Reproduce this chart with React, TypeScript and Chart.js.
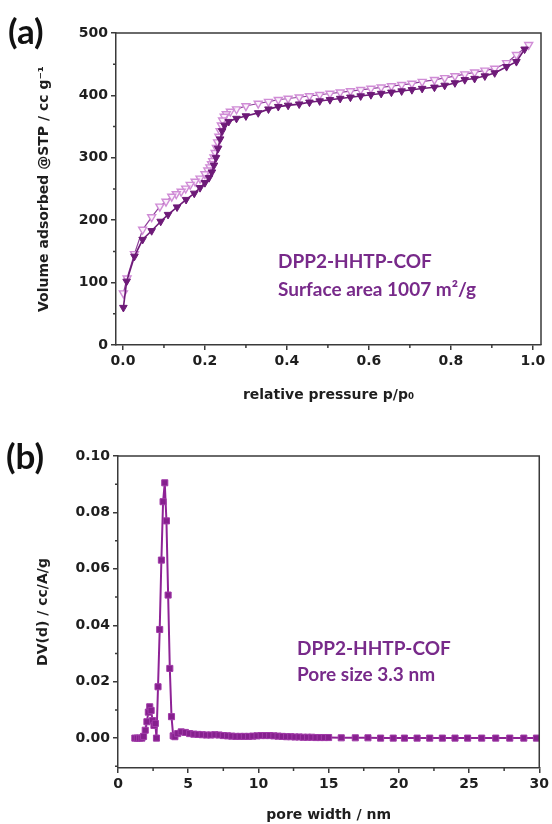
import React, { useEffect, useRef } from "react";
import { Chart, registerables } from "chart.js";
Chart.register(...registerables);

// ---------- (a) N2 isotherm ----------
const adsP = [0.001, 0.009, 0.028, 0.048, 0.07, 0.092, 0.11, 0.132, 0.154, 0.174, 0.188, 0.2, 0.21, 0.217, 0.222, 0.227, 0.232, 0.237, 0.242, 0.248, 0.258, 0.277, 0.3, 0.33, 0.355, 0.379, 0.403, 0.43, 0.455, 0.48, 0.505, 0.53, 0.555, 0.58, 0.605, 0.63, 0.655, 0.68, 0.705, 0.73, 0.76, 0.785, 0.81, 0.834, 0.858, 0.883, 0.907, 0.936, 0.96, 0.98];
const adsV = [60, 102, 142, 169, 183, 198, 209, 221, 233, 243, 252, 260, 268, 277, 288, 300, 315, 330, 343, 352, 358, 363, 367, 372, 378, 382, 384, 386, 389, 391, 393, 395, 397, 399, 401, 403, 405, 407, 409, 411, 413, 416, 420, 425, 427, 431, 436, 446, 454, 474];
const desP = [0.99, 0.96, 0.936, 0.907, 0.883, 0.858, 0.834, 0.81, 0.785, 0.76, 0.73, 0.705, 0.68, 0.655, 0.63, 0.605, 0.58, 0.555, 0.53, 0.505, 0.48, 0.455, 0.43, 0.403, 0.379, 0.355, 0.33, 0.3, 0.277, 0.262, 0.252, 0.247, 0.243, 0.24, 0.237, 0.234, 0.231, 0.228, 0.225, 0.222, 0.219, 0.216, 0.212, 0.207, 0.2, 0.188, 0.176, 0.164, 0.153, 0.142, 0.13, 0.119, 0.105, 0.09, 0.07, 0.048, 0.028, 0.01, 0.001];
const desV = [481, 465, 452, 443, 440, 437, 434, 431, 428, 425, 422, 419, 417, 415, 413, 411, 409, 407, 405, 403, 401, 399, 397, 395, 393, 390, 387, 383, 378, 374, 370, 366, 360, 352, 343, 334, 325, 316, 308, 301, 295, 290, 285, 280, 274, 267, 262, 257, 251, 246, 242, 238, 230, 222, 205, 185, 146, 107, 83];
const aXTicks = [0, 0.2, 0.4, 0.6, 0.8, 1.0];
const aXMinor = [0.1, 0.3, 0.5, 0.7, 0.9];
const aYTicks = [0, 100, 200, 300, 400, 500];
const aYMinor = [50, 150, 250, 350, 450];
const aNotes = ["DPP2-HHTP-COF", "Surface area 1007 m\u00B2/g"];

// ---------- (b) pore size distribution ----------
const poreW = [1.2, 1.37, 1.54, 1.7, 1.82, 1.94, 2.06, 2.16, 2.26, 2.36, 2.46, 2.56, 2.66, 2.74, 2.85, 2.97, 3.09, 3.21, 3.33, 3.45, 3.57, 3.69, 3.81, 3.93, 4.05, 4.25, 4.5, 4.8, 5.1, 5.4, 5.7, 6.0, 6.3, 6.6, 6.9, 7.2, 7.5, 7.8, 8.1, 8.4, 8.7, 9.0, 9.3, 9.6, 9.9, 10.2, 10.5, 10.8, 11.1, 11.4, 11.7, 12.0, 12.3, 12.6, 12.9, 13.2, 13.5, 13.8, 14.1, 14.4, 14.7, 15.0, 15.9, 16.9, 17.8, 18.7, 19.6, 20.4, 21.3, 22.2, 23.1, 24.0, 24.9, 25.9, 26.9, 27.9, 28.9, 29.8];
const poreDV = [0, 0, 0, 0, 0.0006, 0.0028, 0.0058, 0.0092, 0.0111, 0.0098, 0.0062, 0.0045, 0.0052, 0, 0.0182, 0.0385, 0.0631, 0.0838, 0.0905, 0.077, 0.0507, 0.0247, 0.0076, 0.0008, 0.0005, 0.0016, 0.0022, 0.002, 0.0016, 0.0014, 0.0013, 0.0012, 0.0011, 0.0011, 0.0012, 0.0011, 0.0009, 0.0008, 0.0007, 0.0006, 0.0006, 0.0006, 0.0006, 0.0007, 0.0008, 0.0009, 0.0009, 0.0009, 0.0008, 0.0007, 0.0006, 0.0005, 0.0005, 0.0004, 0.0004, 0.0003, 0.0003, 0.0003, 0.0002, 0.0002, 0.0002, 0.0002, 0.0001, 0.0001, 0.0001, 0, 0, 0, 0, 0, 0, 0, 0, 0, 0, 0, 0, 0];
const bXTicks = [0, 5, 10, 15, 20, 25, 30];
const bXMinor = [2.5, 7.5, 12.5, 17.5, 22.5, 27.5];
const bYTicks = [0, 0.02, 0.04, 0.06, 0.08, 0.1];
const bYMinor = [-0.01, 0.01, 0.03, 0.05, 0.07, 0.09];
const bNotes = ["DPP2-HHTP-COF", "Pore size 3.3 nm"];

const AXIS = "#3a3a3a";
const TEXT = "#1e1e1e";
const NOTE = "#782a8a";
const FONT = "'DejaVu Sans', 'Liberation Sans', sans-serif";
const tickFont = { family: FONT, size: 14, weight: "bold" as const };
const titleFont = { family: FONT, size: 14, weight: "bold" as const };

function framePlugin(cfg: any) {
  return {
    id: "frame_" + cfg.key,
    afterDraw(chart: any) {
      const { ctx, chartArea: ca, scales } = chart;
      ctx.save();
      ctx.strokeStyle = AXIS;
      ctx.lineWidth = 1.5;
      ctx.beginPath();
      ctx.moveTo(ca.left, ca.top);
      ctx.lineTo(ca.right, ca.top);
      ctx.lineTo(ca.right, ca.bottom);
      ctx.stroke();
      ctx.beginPath();
      cfg.xMinor.forEach((v: number) => {
        const px = scales.x.getPixelForValue(v);
        ctx.moveTo(px, ca.bottom);
        ctx.lineTo(px, ca.bottom + 3);
      });
      cfg.yMinor.forEach((v: number) => {
        const py = scales.y.getPixelForValue(v);
        ctx.moveTo(ca.left, py);
        ctx.lineTo(ca.left - 3, py);
      });
      ctx.stroke();
      ctx.fillStyle = "#111";
      ctx.font = "bold 35px Lato";
      ctx.textAlign = "left";
      ctx.textBaseline = "middle";
      ctx.fillText(cfg.panel, cfg.panelX, cfg.panelY);
      ctx.fillStyle = NOTE;
      ctx.font = "bold 19px Lato";
      ctx.textBaseline = "alphabetic";
      cfg.notes.forEach((t: string, i: number) => ctx.fillText(t, cfg.noteX, cfg.noteY[i]));
      ctx.restore();
    },
  };
}

function axisCommon(ticks: number[], fmt: (v: number) => string, min: number, max: number, fit: (s: any) => void, title: any) {
  return {
    type: "linear" as const,
    min,
    max,
    afterBuildTicks: (s: any) => {
      s.ticks = ticks.map((v) => ({ value: v }));
    },
    afterFit: fit,
    ticks: { font: tickFont, color: TEXT, padding: 3, autoSkip: false, maxRotation: 0, callback: (v: any) => fmt(Number(v)) },
    grid: { display: true, drawOnChartArea: false, drawTicks: true, tickLength: 5, color: AXIS, lineWidth: 1.5 },
    border: { display: true, color: AXIS, width: 1.5 },
    title,
  };
}

export default function App() {
  const refA = useRef<HTMLCanvasElement>(null);
  const refB = useRef<HTMLCanvasElement>(null);

  useEffect(() => {
    const chartA = new Chart(refA.current!, {
      type: "line",
      data: {
        datasets: [
          {
            label: "Adsorption",
            data: adsP.map((p, i) => ({ x: p, y: adsV[i] })),
            borderColor: "#6e1a78",
            borderWidth: 1.6,
            backgroundColor: "#6e1a78",
            pointStyle: "triangle",
            pointRotation: 180,
            pointRadius: 4.4,
            pointBackgroundColor: "#6e1a78",
            pointBorderColor: "#6e1a78",
            pointBorderWidth: 1,
            tension: 0,
          },
          {
            label: "Desorption",
            data: desP.map((p, i) => ({ x: p, y: desV[i] })),
            borderColor: "#8d3f99",
            borderWidth: 1.2,
            backgroundColor: "#ffffff",
            pointStyle: "triangle",
            pointRotation: 180,
            pointRadius: 4.6,
            pointBackgroundColor: "#fbf2fb",
            pointBorderColor: "#d08cd6",
            pointBorderWidth: 1.4,
            tension: 0,
          },
        ],
      },
      options: {
        animation: false,
        responsive: false,
        events: [],
        layout: { padding: { left: 0, right: 11, top: 33, bottom: 0 } },
        plugins: { legend: { display: false }, tooltip: { enabled: false } },
        scales: {
          x: axisCommon(aXTicks, (v) => v.toFixed(1), -0.017, 1.02, (s) => { s.height = 65; }, {
            display: true,
            text: "relative pressure p/p\u2080",
            font: titleFont,
            color: TEXT,
            padding: { top: 0, bottom: 6 },
          }),
          y: axisCommon(aYTicks, (v) => String(v), 0, 500, (s) => { s.width = 116; }, {
            display: true,
            text: "Volume adsorbed @STP / cc g\u207B\u00B9",
            font: titleFont,
            color: TEXT,
            padding: { top: 36, bottom: 0 },
          }),
        },
      },
      plugins: [
        framePlugin({ key: "a", xMinor: aXMinor, yMinor: aYMinor, panel: "(a)", panelX: 8, panelY: 33, notes: aNotes, noteX: 278, noteY: [268, 296] }),
      ],
    } as any);

    const chartB = new Chart(refB.current!, {
      type: "line",
      data: {
        datasets: [
          {
            label: "PSD",
            data: poreW.map((w, i) => ({ x: w, y: poreDV[i] })),
            borderColor: "#8e2296",
            borderWidth: 2,
            backgroundColor: "#8e2296",
            pointStyle: "rect",
            pointRadius: 4.3,
            pointBackgroundColor: "#86208e",
            pointBorderColor: "#a03aa8",
            pointBorderWidth: 1,
            tension: 0,
          },
        ],
      },
      options: {
        animation: false,
        responsive: false,
        events: [],
        layout: { padding: { left: 0, right: 11, top: 46, bottom: 0 } },
        plugins: { legend: { display: false }, tooltip: { enabled: false } },
        scales: {
          x: axisCommon(bXTicks, (v) => String(v), 0, 30, (s) => { s.height = 56; }, {
            display: true,
            text: "pore width / nm",
            font: titleFont,
            color: TEXT,
            padding: { top: 0, bottom: 0 },
          }),
          y: axisCommon(bYTicks, (v) => v.toFixed(2), -0.0106, 0.1, (s) => { s.width = 118; }, {
            display: true,
            text: "DV(d) / cc/A/g",
            font: titleFont,
            color: TEXT,
            padding: { top: 35, bottom: 0 },
          }),
        },
      },
      plugins: [
        framePlugin({ key: "b", xMinor: bXMinor, yMinor: bYMinor, panel: "(b)", panelX: 6, panelY: 48, notes: bNotes, noteX: 297, noteY: [245, 271] }),
      ],
    } as any);

    return () => {
      chartA.destroy();
      chartB.destroy();
    };
  }, []);

  return (
    <div style={{ position: "absolute", left: 0, top: 0, width: 552, height: 824, background: "#ffffff" }}>
      <canvas ref={refA} width={552} height={410} style={{ position: "absolute", left: 0, top: 0, width: 552, height: 410 }} />
      <canvas ref={refB} width={552} height={414} style={{ position: "absolute", left: 0, top: 410, width: 552, height: 414 }} />
    </div>
  );
}
